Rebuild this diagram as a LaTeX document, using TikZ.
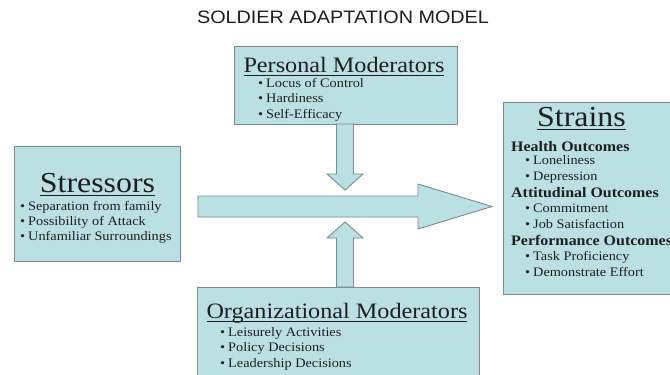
\documentclass[tikz,border=0pt]{standalone}
\usepackage{fontspec}
\setmainfont{Liberation Serif}[FakeStretch=1.1]
\newfontfamily\titlefont{Liberation Sans}[FakeStretch=1.1]
\definecolor{boxfill}{RGB}{187,224,228}
\definecolor{boxline}{RGB}{120,140,145}
\definecolor{ink}{RGB}{30,30,30}
\newcommand\myul[1]{\setbox0=\hbox{#1}\rlap{\rule[-3.5pt]{\wd0}{0.9pt}}\box0}
\newcommand\bul{\textbullet\hspace{3pt}}
\begin{document}
\begin{tikzpicture}[x=1pt,y=-1pt,
  panel/.style={draw=boxline, fill=boxfill, line width=0.9pt, inner sep=0, anchor=north west},
  blockarrow/.style={draw=boxline, fill=boxfill, line width=0.9pt, line join=miter},
  txt/.style={inner sep=0, text=ink, anchor=base west, font=\fontsize{13}{15}\selectfont},
  hdr/.style={inner sep=0, text=ink, anchor=base west, font=\fontsize{14.5}{16}\selectfont\bfseries},
  bigtitle/.style={inner sep=0, text=ink, anchor=base, font=\fontsize{29}{32}\selectfont},
  midtitle/.style={inner sep=0, text=ink, anchor=base, font=\fontsize{22}{24}\selectfont}]
\useasboundingbox (0,0) rectangle (670,375);
\fill[white] (0,0) rectangle (670,375);
\clip (0,0) rectangle (670,375);

% title
\node[inner sep=0, anchor=base, text=ink, font=\titlefont\fontsize{18}{20}\selectfont] (title) at (343,23) {SOLDIER ADAPTATION MODEL};

% boxes
\node[panel, minimum width=223pt, minimum height=78pt] (pm) at (234,46) {};
\node[panel, minimum width=166pt, minimum height=115pt] (st) at (14,146) {};
\node[panel, minimum width=282pt, minimum height=110pt] (om) at (197,287) {};
\node[panel, minimum width=180pt, minimum height=192pt] (sn) at (503,102) {};

% block arrows
\draw[blockarrow] (336.5,124) -- (353.5,124) -- (353.5,174) -- (363,174) -- (345,190)
  -- (327,174) -- (336.5,174) -- cycle;
\draw[blockarrow] (336.5,287) -- (353.5,287) -- (353.5,238) -- (363,238) -- (345,222)
  -- (327,238) -- (336.5,238) -- cycle;
\draw[blockarrow] (198,196) -- (418,196) -- (418,184) -- (492,206.5) -- (418,229)
  -- (418,217) -- (198,217) -- cycle;

% Personal Moderators
\node[midtitle] (pmt) at (344,72) {\myul{Personal Moderators}};
\node[txt] (pm1) at (258,87) {\bul Locus of Control};
\node[txt] (pm2) at (258,102.5) {\bul Hardiness};
\node[txt] (pm3) at (258,118) {\bul Self-Efficacy};

% Stressors
\node[bigtitle] (stt) at (97.5,192) {\myul{Stressors}};
\node[txt] (st1) at (20,210) {\bul Separation from family};
\node[txt] (st2) at (20,225) {\bul Possibility of Attack};
\node[txt] (st3) at (20,240) {\bul Unfamiliar Surroundings};

% Organizational Moderators
\node[midtitle] (omt) at (337,318) {\myul{Organizational Moderators}};
\node[txt] (om1) at (220,336) {\bul Leisurely Activities};
\node[txt] (om2) at (220,351.5) {\bul Policy Decisions};
\node[txt] (om3) at (220,367) {\bul Leadership Decisions};

% Strains
\node[bigtitle] (snt) at (581.5,126) {\myul{Strains}};
\node[hdr] (h1) at (511,151) {Health Outcomes};
\node[txt] (h1a) at (525,164.5) {\bul Loneliness};
\node[txt] (h1b) at (525,180.5) {\bul Depression};
\node[hdr] (h2) at (511,197) {Attitudinal Outcomes};
\node[txt] (h2a) at (525,212.5) {\bul Commitment};
\node[txt] (h2b) at (525,228.5) {\bul Job Satisfaction};
\node[hdr] (h3) at (511,245) {Performance Outcomes};
\node[txt] (h3a) at (525,260.5) {\bul Task Proficiency};
\node[txt] (h3b) at (525,276.5) {\bul Demonstrate Effort};
\end{tikzpicture}
\end{document}
